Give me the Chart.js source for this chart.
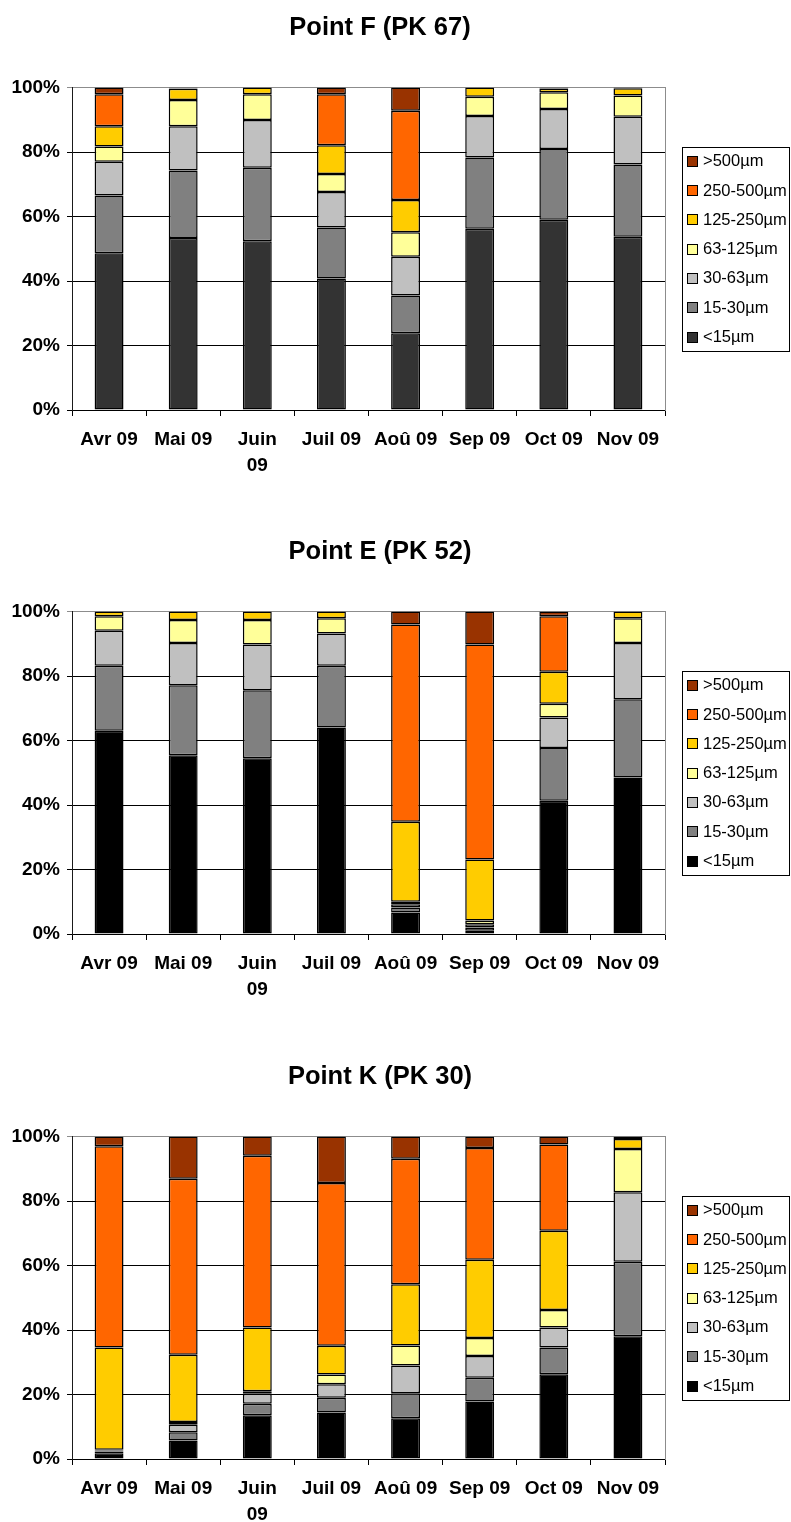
<!DOCTYPE html>
<html>
<head>
<meta charset="utf-8">
<script src="https://cdn.jsdelivr.net/npm/chart.js@4.4.1/dist/chart.umd.min.js"></script>
<style>
  html, body { margin: 0; padding: 0; background: #fff; }
  body { width: 791px; height: 1522px; position: relative; overflow: hidden; }
  canvas { position: absolute; left: 0; }
</style>
</head>
<body>
<canvas id="chartF" width="791" height="471" style="top:0px"></canvas>
<canvas id="chartE" width="791" height="471" style="top:524px"></canvas>
<canvas id="chartK" width="791" height="471" style="top:1049px"></canvas>
<script>
// Months sampled (Juin wraps onto two lines)
const months = ['Avr 09', 'Mai 09', ['Juin', '09'], 'Juil 09', 'Aoû 09', 'Sep 09', 'Oct 09', 'Nov 09'];

// Grain-size classes, bottom of the stack first
const sizeClasses = ['<15µm', '15-30µm', '30-63µm', '63-125µm', '125-250µm', '250-500µm', '>500µm'];

// Percentage ticks on the value axis
const percentTicks = [0, 20, 40, 60, 80, 100];

// Point F (PK 67) — share of each class, %
const fLt15   = [48.6, 53.3, 52.3, 40.8, 23.8, 56.2, 59.0, 53.7];
const f15_30  = [17.9, 21.0, 22.8, 15.8, 11.7, 22.1, 21.9, 22.4];
const f30_63  = [10.5, 13.7, 14.8, 11.0, 12.0, 12.9, 12.4, 14.8];
const f63_125 = [4.7, 8.1, 8.0, 5.6, 7.6, 5.9, 5.2, 6.6];
const f125_250 = [6.3, 3.5, 2.1, 8.9, 10.0, 2.9, 1.2, 2.3];
const f250_500 = [9.9, 0.2, 0, 15.8, 27.7, 0, 0.3, 0.2];
const fGt500  = [2.1, 0.2, 0, 2.1, 7.2, 0, 0, 0];

// Point E (PK 52)
const eLt15   = [63.0, 55.4, 54.5, 64.0, 6.7, 1.0, 41.3, 48.5];
const e15_30  = [20.2, 21.7, 21.1, 19.2, 1.5, 1.0, 16.4, 24.3];
const e30_63  = [10.8, 13.1, 14.2, 10.0, 1.0, 1.0, 9.4, 17.4];
const e63_125 = [4.5, 7.2, 7.6, 4.7, 0.8, 1.2, 4.3, 7.7];
const e125_250 = [1.5, 2.6, 2.6, 2.1, 24.8, 18.9, 9.9, 2.1];
const e250_500 = [0, 0, 0, 0, 61.2, 66.7, 17.2, 0];
const eGt500  = [0, 0, 0, 0, 4.0, 10.2, 1.5, 0];

// Point K (PK 30)
const kLt15   = [1.8, 5.7, 13.6, 14.4, 12.6, 17.8, 26.3, 38.1];
const k15_30  = [0.5, 2.6, 3.5, 4.6, 7.8, 7.4, 8.3, 23.1];
const k30_63  = [0.3, 2.3, 3.1, 4.2, 8.6, 6.7, 6.2, 21.5];
const k63_125 = [0.3, 0.9, 0.8, 3.0, 6.2, 5.6, 5.4, 13.4];
const k125_250 = [31.7, 20.8, 19.8, 8.9, 19.0, 24.3, 24.6, 3.1];
const k250_500 = [62.4, 54.6, 53.2, 50.5, 38.9, 34.6, 26.7, 0.3];
const kGt500  = [3.0, 13.1, 6.0, 14.4, 6.9, 3.6, 2.5, 0.5];

// Fill colours for the classes (the finest class differs at Point F)
const classColours = ['#000000', '#808080', '#C0C0C0', '#FFFF99', '#FFCC00', '#FF6600', '#993300'];
const finestColourF = '#333333';

const FONT = "'Liberation Sans', Arial, Helvetica, sans-serif";

// Boxed legend drawn to the right of the plot, largest class on top
const sideLegend = {
  id: 'sideLegend',
  afterDraw(chart) {
    const { ctx, chartArea } = chart;
    const cy = (chartArea.top + chartArea.bottom) / 2;
    const left = 682.5, width = 107, top = Math.round(cy - 102) + 0.5, height = 204;
    ctx.save();
    ctx.fillStyle = '#ffffff';
    ctx.fillRect(left, top, width, height);
    ctx.strokeStyle = '#000000';
    ctx.lineWidth = 1;
    ctx.strokeRect(left, top, width, height);
    const items = chart.data.datasets.slice().reverse();
    ctx.font = '16.5px ' + FONT;
    ctx.textBaseline = 'middle';
    ctx.textAlign = 'left';
    items.forEach((ds, i) => {
      const yc = cy - 88 + i * 29.3;
      const by = Math.round(yc - 5) + 0.5;
      ctx.fillStyle = ds.backgroundColor;
      ctx.fillRect(687.5, by, 10, 10);
      ctx.strokeStyle = '#000000';
      ctx.strokeRect(687.5, by, 10, 10);
      ctx.fillStyle = '#000000';
      ctx.fillText(ds.label, 703, yc + 1);
    });
    ctx.restore();
  }
};

function buildChart(canvasId, titleText, seriesList, finestColour) {
  const datasets = seriesList.map((values, i) => ({
    label: sizeClasses[i],
    data: values,
    backgroundColor: i === 0 ? finestColour : classColours[i],
    borderColor: '#000000',
    borderWidth: 1.5,
    borderSkipped: false,
    inflateAmount: 0,
    barPercentage: 0.39,
    categoryPercentage: 1,
    stack: 'grains'
  }));

  return new Chart(document.getElementById(canvasId), {
    type: 'bar',
    data: { labels: months, datasets },
    options: {
      responsive: false,
      animation: false,
      devicePixelRatio: 1,
      layout: { padding: { left: 0, right: 31, top: 0, bottom: 0 } },
      plugins: {
        legend: { display: false },
        tooltip: { enabled: false },
        title: {
          display: true,
          text: titleText,
          color: '#000000',
          font: { family: FONT, size: 25.5, weight: 'bold', lineHeight: 1.2 },
          padding: { top: 13, bottom: 43.9 }
        }
      },
      scales: {
        x: {
          stacked: true,
          grid: { offset: true, drawOnChartArea: false, drawTicks: true, tickLength: 6, color: '#000000' },
          border: { display: true, color: '#000000', width: 1 },
          ticks: {
            color: '#000000',
            font: { family: FONT, size: 19, weight: 'bold', lineHeight: 1.37 },
            padding: 11,
            maxRotation: 0,
            autoSkip: false
          },
          afterFit(scale) { scale.height = 61; }
        },
        y: {
          stacked: true,
          min: percentTicks[0],
          max: percentTicks[percentTicks.length - 1],
          afterBuildTicks(scale) { scale.ticks = percentTicks.map(v => ({ value: v })); },
          ticks: {
            color: '#000000',
            font: { family: FONT, size: 19, weight: 'bold' },
            padding: 7,
            callback: v => v + '%'
          },
          grid: {
            drawTicks: true,
            tickLength: 5,
            color: c => (c.tick && c.tick.value === 100 ? '#8c8c8c' : '#000000')
          },
          border: { display: true, color: '#1a1a1a', width: 1 },
          afterFit(scale) { scale.width = 72; }
        },
        frameRight: {
          type: 'linear',
          position: 'right',
          display: true,
          grid: { display: false },
          ticks: { display: false },
          border: { display: true, color: '#8c8c8c', width: 1 },
          afterFit(scale) { scale.width = 95; }
        }
      }
    },
    plugins: [sideLegend]
  });
}

buildChart('chartF', 'Point F (PK 67)',
  [fLt15, f15_30, f30_63, f63_125, f125_250, f250_500, fGt500], finestColourF);
buildChart('chartE', 'Point E (PK 52)',
  [eLt15, e15_30, e30_63, e63_125, e125_250, e250_500, eGt500], classColours[0]);
buildChart('chartK', 'Point K (PK 30)',
  [kLt15, k15_30, k30_63, k63_125, k125_250, k250_500, kGt500], classColours[0]);
</script>
</body>
</html>
